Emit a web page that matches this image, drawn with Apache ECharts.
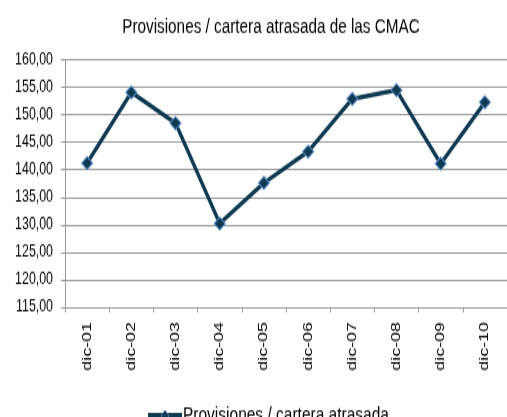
<!DOCTYPE html>
<html><head><meta charset="utf-8">
<script src="https://cdn.jsdelivr.net/npm/echarts@6/dist/echarts.min.js"></script>
<style>
html,body{margin:0;padding:0;background:#fff;overflow:hidden;width:507px;height:417px}
#c{width:507px;height:304px;transform:scaleY(1.3717);transform-origin:0 0}
</style>
</head><body><div id="c"></div>
<script>
const categories = ['dic-01','dic-02','dic-03','dic-04','dic-05','dic-06','dic-07','dic-08','dic-09','dic-10'];
const values = [141.2, 154.1, 148.5, 130.2, 137.6, 143.3, 152.9, 154.5, 141.1, 152.3];
const seriesName = 'Provisiones / cartera atrasada';
const titleText = 'Provisiones / cartera atrasada de las CMAC';

const FONT = 'Liberation Sans, Arial, sans-serif';
const chart = echarts.init(document.getElementById('c'), null, {renderer:'canvas'});
chart.setOption({
  animation: false,
  title: {text: titleText, left: 266, top: 7.5, textAlign: 'center',
    textStyle: {fontFamily: FONT, fontSize: 15.3, fontWeight: 'normal', color: '#000'}},
  legend: {data: [seriesName],
    left: 141, top: 290, itemWidth: 34, itemHeight: 10, itemGap: 2,
    lineStyle: {color: '#0e3a52', width: 4},
    itemStyle: {color: '#0e3a52', borderColor: '#5b8fc9', borderWidth: 0.7},
    textStyle: {fontFamily: FONT, fontSize: 15.5, color: '#000', padding: [0,0,0,-4]}},
  grid: {left: 65, right: -12, top: 43.7, bottom: 80.2, containLabel: false},
  xAxis: {type: 'category', data: categories, boundaryGap: true,
    axisLine: {lineStyle: {color: '#999', width: 1}},
    axisTick: {show: true, length: 4, lineStyle: {color: '#999'}},
    axisLabel: {rotate: 90, margin: 11, fontFamily: FONT, fontSize: 13, color: '#000', interval: 0}},
  yAxis: {type: 'value', min: 115, max: 160, interval: 5,
    axisLine: {show: true, lineStyle: {color: '#999'}},
    axisTick: {show: true, length: 4, lineStyle: {color: '#999'}},
    splitLine: {lineStyle: {color: '#999', width: 1}},
    axisLabel: {margin: 12, fontFamily: FONT, fontSize: 12.4, color: '#000',
      formatter: v => v.toFixed(2).replace('.', ',')}},
  series: [{name: seriesName, type: 'line', data: values,
    lineStyle: {color: '#0e3a52', width: 3.3},
    itemStyle: {color: '#0e3a52', borderColor: '#5b8fc9', borderWidth: 1},
    symbol: 'diamond', symbolSize: [11, 9.5], showAllSymbol: true}]
});
</script></body></html>
